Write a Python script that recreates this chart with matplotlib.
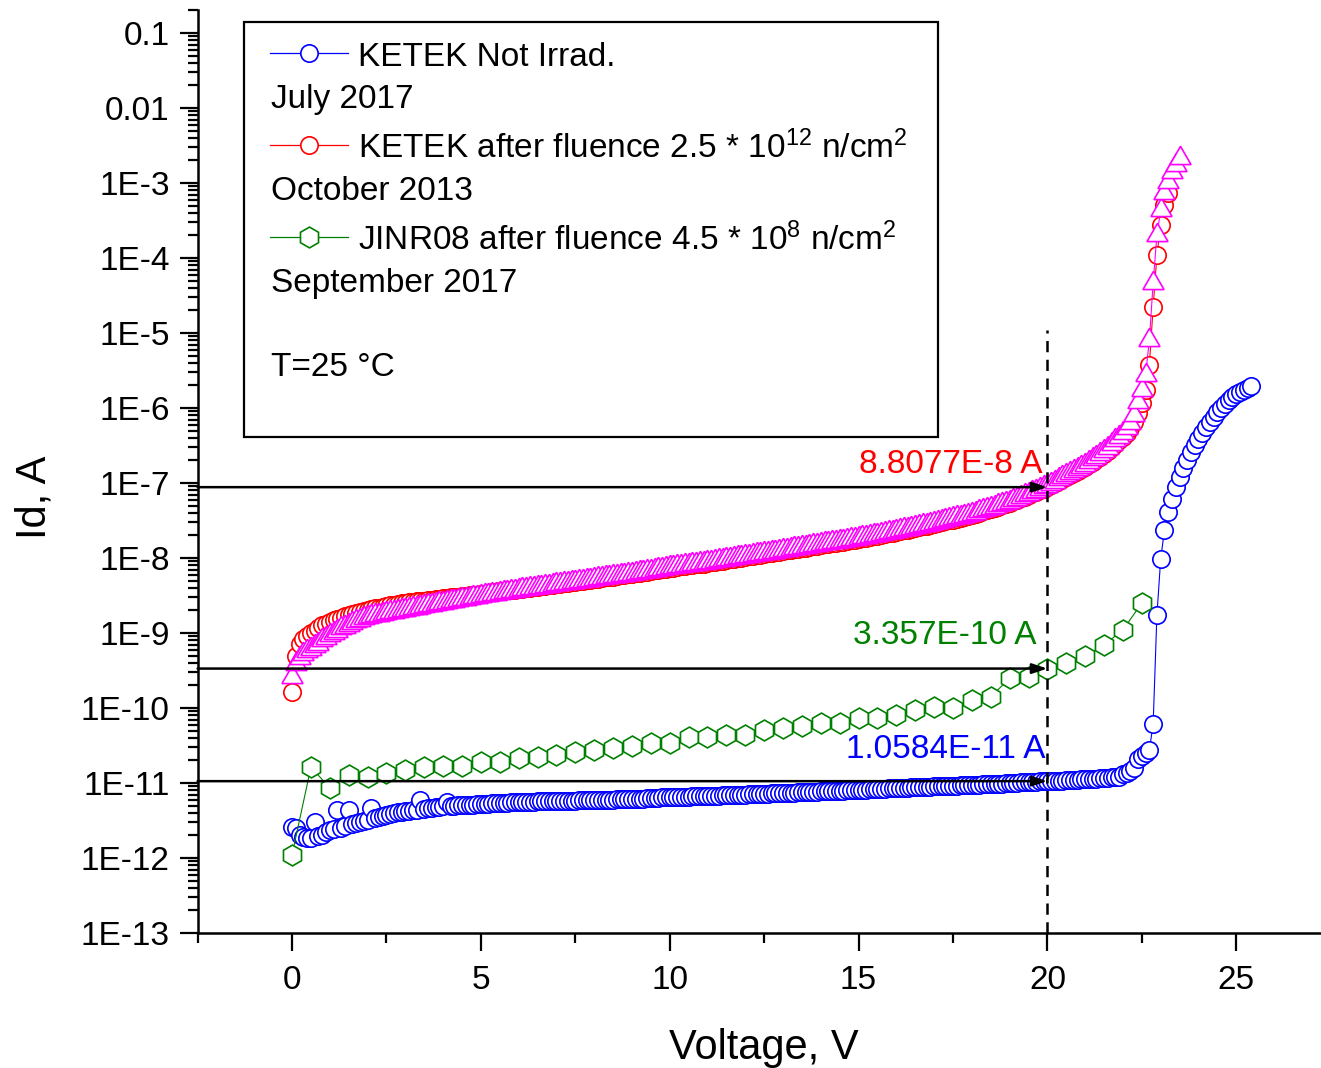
import numpy as np
import matplotlib.pyplot as plt
from matplotlib.lines import Line2D
from matplotlib.patches import Rectangle
from matplotlib.ticker import FixedLocator, FixedFormatter, LogLocator, MultipleLocator, NullFormatter

plt.rcParams['font.family'] = ['Liberation Sans', 'DejaVu Sans']
plt.rcParams['mathtext.fontset'] = 'custom'
plt.rcParams['mathtext.rm'] = 'Liberation Sans'
plt.rcParams['mathtext.it'] = 'Liberation Sans:italic'
plt.rcParams['mathtext.bf'] = 'Liberation Sans:bold'

# sweep step of the I-V measurements, V
STEP = 0.1
GREEN_STEP = 0.5

# KETEK, not irradiated (July 2017), dark current in pA
ketek_pA = [
    2.59, 2.51, 2.03, 1.91, 1.85, 1.85, 3.02, 1.97, 2.03, 2.22,
    2.36, 2.44, 4.37, 2.51, 2.67, 4.37, 2.84, 2.93, 3.02, 3.11,
    3.21, 4.64, 3.41, 3.51, 3.62, 3.75, 3.86, 3.98, 4.11, 4.11,
    4.24, 4.24, 4.37, 4.37, 5.93, 4.50, 4.64, 4.64, 4.78, 4.78,
    4.93, 5.58, 4.96, 5.00, 5.03, 5.06, 5.09, 5.12, 5.15, 5.20,
    5.24, 5.27, 5.30, 5.34, 5.37, 5.40, 5.44, 5.47, 5.51, 5.55,
    5.58, 5.60, 5.62, 5.63, 5.65, 5.67, 5.68, 5.70, 5.72, 5.74,
    5.75, 5.77, 5.79, 5.81, 5.82, 5.84, 5.86, 5.88, 5.90, 5.92,
    5.93, 5.95, 5.97, 5.99, 6.01, 6.02, 6.04, 6.06, 6.08, 6.10,
    6.11, 6.13, 6.15, 6.19, 6.25, 6.31, 6.35, 6.39, 6.42, 6.46,
    6.50, 6.52, 6.54, 6.56, 6.58, 6.60, 6.62, 6.64, 6.66, 6.68,
    6.70, 6.73, 6.76, 6.80, 6.83, 6.86, 6.89, 6.92, 6.96, 6.99,
    7.02, 7.05, 7.09, 7.12, 7.16, 7.19, 7.22, 7.26, 7.29, 7.32,
    7.35, 7.39, 7.42, 7.46, 7.49, 7.53, 7.56, 7.60, 7.63, 7.67,
    7.71, 7.74, 7.78, 7.81, 7.85, 7.89, 7.92, 7.96, 8.00, 8.03,
    8.07, 8.12, 8.17, 8.22, 8.27, 8.32, 8.37, 8.42, 8.48, 8.53,
    8.58, 8.62, 8.66, 8.70, 8.74, 8.78, 8.82, 8.86, 8.90, 8.95,
    8.99, 9.03, 9.07, 9.11, 9.15, 9.19, 9.23, 9.27, 9.32, 9.36,
    9.40, 9.45, 9.50, 9.56, 9.61, 9.66, 9.72, 9.78, 9.83, 9.89,
    10.00, 10.06, 10.12, 10.18, 10.24, 10.30, 10.36, 10.42, 10.48, 10.54,
    10.584, 10.63, 10.68, 10.74, 10.80, 10.86, 10.93, 11.00, 11.07, 11.15,
    11.22, 11.30, 11.38, 11.46, 11.55, 11.65, 11.76, 11.88, 12.00, 12.20,
    13.0, 13.6, 14.5, 16.0, 21.0, 23.0, 25.5, 27.5, 61.0, 1740,
    9700, 23600, 41000, 61200, 88500, 1.20e5, 1.58e5, 2.03e5, 2.59e5, 3.21e5,
    3.86e5, 4.64e5, 5.58e5, 6.50e5, 7.59e5, 8.85e5, 1.00e6, 1.13e6, 1.28e6, 1.40e6,
    1.54e6, 1.63e6, 1.74e6, 1.85e6, 1.96e6,
]

# KETEK after fluence 2.5e12 n/cm2 (October 2013), dark current in nA
irrad_nA = [
    0.163, 0.49, 0.71, 0.82, 0.91, 1.00, 1.08, 1.17, 1.26, 1.33,
    1.40, 1.47, 1.54, 1.61, 1.68, 1.75, 1.81, 1.87, 1.93, 1.98,
    2.03, 2.08, 2.13, 2.18, 2.23, 2.28, 2.33, 2.38, 2.43, 2.48,
    2.52, 2.56, 2.60, 2.64, 2.67, 2.71, 2.75, 2.79, 2.83, 2.87,
    2.91, 2.95, 2.99, 3.02, 3.06, 3.10, 3.14, 3.18, 3.22, 3.26,
    3.31, 3.36, 3.41, 3.47, 3.52, 3.58, 3.63, 3.69, 3.74, 3.80,
    3.86, 3.92, 3.98, 4.04, 4.10, 4.17, 4.23, 4.30, 4.36, 4.43,
    4.50, 4.57, 4.64, 4.71, 4.79, 4.86, 4.94, 5.01, 5.09, 5.17,
    5.25, 5.33, 5.41, 5.50, 5.58, 5.67, 5.76, 5.85, 5.94, 6.03,
    6.12, 6.23, 6.35, 6.47, 6.59, 6.71, 6.83, 6.96, 7.09, 7.22,
    7.36, 7.47, 7.59, 7.71, 7.83, 7.95, 8.07, 8.20, 8.32, 8.45,
    8.58, 8.74, 8.90, 9.07, 9.23, 9.40, 9.58, 9.75, 9.93, 10.1,
    10.3, 10.5, 10.7, 10.9, 11.1, 11.3, 11.5, 11.7, 11.9, 12.2,
    12.4, 12.6, 12.9, 13.1, 13.3, 13.6, 13.8, 14.1, 14.4, 14.6,
    14.9, 15.2, 15.4, 15.7, 16.0, 16.3, 16.6, 16.9, 17.3, 17.6,
    17.9, 18.3, 18.7, 19.1, 19.5, 19.9, 20.4, 20.8, 21.3, 21.7,
    22.2, 22.8, 23.3, 23.9, 24.5, 25.1, 25.7, 26.4, 27.0, 27.7,
    28.4, 29.2, 30.0, 30.8, 31.7, 32.6, 33.5, 34.4, 35.4, 36.4,
    37.4, 38.8, 40.3, 41.8, 43.3, 45.0, 46.7, 48.4, 50.2, 52.1,
    54.1, 56.8, 59.6, 62.6, 65.7, 69.0, 72.5, 76.1, 79.9, 83.9,
    88.077, 93.7, 99.6, 106, 113, 120, 128, 136, 144, 153,
    163, 177, 192, 208, 225, 244, 271, 300, 333, 370,
    410, 470, 541, 650, 858, 1166, 1738, 3743, 22200, 109600,
    275000, 509000, 736000,
]

# second sweep of the irradiated KETEK, dark current in nA
irrad2_nA = [
    0.26, 0.39, 0.46, 0.52, 0.57, 0.62, 0.67, 0.72, 0.80, 0.87,
    0.94, 1.01, 1.08, 1.15, 1.22, 1.29, 1.36, 1.43, 1.50, 1.57,
    1.63, 1.68, 1.72, 1.76, 1.80, 1.84, 1.88, 1.92, 1.96, 2.00,
    2.03, 2.08, 2.13, 2.18, 2.23, 2.28, 2.34, 2.39, 2.44, 2.50,
    2.55, 2.60, 2.65, 2.71, 2.76, 2.82, 2.88, 2.93, 2.99, 3.05,
    3.11, 3.17, 3.23, 3.29, 3.35, 3.42, 3.48, 3.55, 3.61, 3.67,
    3.74, 3.81, 3.88, 3.94, 4.01, 4.09, 4.15, 4.23, 4.30, 4.38,
    4.46, 4.53, 4.60, 4.68, 4.76, 4.84, 4.92, 5.00, 5.08, 5.16,
    5.25, 5.34, 5.42, 5.52, 5.60, 5.70, 5.79, 5.89, 5.99, 6.08,
    6.18, 6.30, 6.43, 6.55, 6.68, 6.81, 6.94, 7.08, 7.22, 7.36,
    7.51, 7.63, 7.76, 7.88, 8.00, 8.12, 8.25, 8.38, 8.50, 8.64,
    8.77, 8.95, 9.11, 9.29, 9.45, 9.63, 9.81, 9.98, 10.17, 10.34,
    10.55, 10.77, 10.98, 11.18, 11.39, 11.59, 11.80, 12.00, 12.21, 12.52,
    12.72, 12.95, 13.26, 13.47, 13.67, 13.98, 14.19, 14.49, 14.80, 15.01,
    15.32, 15.66, 15.86, 16.17, 16.48, 16.79, 17.10, 17.41, 17.82, 18.13,
    18.44, 18.89, 19.30, 19.71, 20.12, 20.54, 21.05, 21.47, 21.98, 22.39,
    22.91, 23.58, 24.09, 24.71, 25.33, 25.95, 26.57, 27.30, 27.92, 28.64,
    29.37, 30.25, 31.08, 31.91, 32.84, 33.77, 34.71, 35.64, 36.67, 37.71,
    38.75, 40.3, 41.8, 43.4, 44.9, 46.7, 48.5, 50.2, 52.1, 54.1,
    56.2, 59.1, 62.0, 65.2, 68.4, 71.8, 75.5, 79.2, 83.2, 87.5,
    92.0, 98.2, 104.6, 111.6, 119.3, 127.2, 136.1, 145.1, 154.4, 164.8,
    174.4, 190, 207, 225, 245, 267, 297, 331, 370, 413,
    459, 536, 628, 807, 1202, 1738, 2754, 8070, 46400, 202800,
    436500, 736000, 1.03e6, 1.40e6, 1.74e6, 2.15e6,
]

# JINR08 after fluence 4.5e8 n/cm2 (September 2017), dark current in A, 0.5 V steps
jinr_id = [
    1.10e-12, 1.63e-11, 8.58e-12, 1.28e-11, 1.20e-11, 1.36e-11, 1.49e-11, 1.63e-11, 1.69e-11, 1.69e-11,
    1.91e-11, 1.91e-11, 2.15e-11, 2.22e-11, 2.36e-11, 2.59e-11, 2.75e-11, 2.93e-11, 3.11e-11, 3.41e-11,
    3.41e-11, 4.10e-11, 4.10e-11, 4.37e-11, 4.37e-11, 5.09e-11, 5.41e-11, 5.75e-11, 6.31e-11, 6.31e-11,
    7.36e-11, 7.36e-11, 8.07e-11, 9.40e-11, 1.03e-10, 1.00e-10, 1.28e-10, 1.40e-10, 2.51e-10, 2.59e-10,
    3.357e-10, 3.98e-10, 4.93e-10, 6.92e-10, 1.10e-9, 2.51e-9,
]

# currents read at 20 V
V_MARK = 20
marks = [
    (8.8077e-8, '8.8077E-8 A', '#FF0000', 19.86, 1.36e-7),
    (3.357e-10, '3.357E-10 A', '#008000', 19.70, 7.13e-10),
    (1.0584e-11, '1.0584E-11 A', '#0000FF', 19.96, 2.15e-11),
]

y_ticks = [1e-13, 1e-12, 1e-11, 1e-10, 1e-9, 1e-8, 1e-7, 1e-6, 1e-5, 1e-4, 1e-3, 1e-2, 1e-1]
y_labels = ['1E-13', '1E-12', '1E-11', '1E-10', '1E-9', '1E-8', '1E-7', '1E-6',
            '1E-5', '1E-4', '1E-3', '0.01', '0.1']

ketek_v = np.arange(len(ketek_pA)) * STEP
irrad_v = np.arange(len(irrad_nA)) * STEP
irrad2_v = np.arange(len(irrad2_nA)) * STEP
jinr_v = np.arange(len(jinr_id)) * GREEN_STEP

ketek_id = np.array(ketek_pA) * 1e-12
irrad_id = np.array(irrad_nA) * 1e-9
irrad2_id = np.array(irrad2_nA) * 1e-9

W, H = 1321, 1068
fig = plt.figure(figsize=(W / 100, H / 100), dpi=100)
ax = fig.add_axes([0.1496, 0.1264, 0.8577, 0.8638])

mk = dict(mfc='white', mew=1.2)
ax.plot(ketek_v, ketek_id, color='#0000FF', lw=0.8, marker='o', ms=12.5, mec='#0000FF', **mk)
ax.plot(irrad_v, irrad_id, color='#FF0000', lw=0.8, marker='o', ms=12.5, mec='#FF0000', **mk)
ax.plot(irrad2_v, irrad2_id, color='#FF00FF', lw=0.8, marker=(3, 0, 0), ms=17.5, mec='#FF00FF', **mk)
ax.plot(jinr_v, jinr_id, color='#008000', lw=0.8, marker='h', ms=15, mec='#008000', **mk)

# dashed line at 20 V and arrows to the read values
ax.vlines(V_MARK, 1e-13, 1.1e-5, colors='k', lw=1.8, linestyles=(0, (4.5, 3.0)), zorder=5)
for val, txt, col, tx, ty in marks:
    ax.annotate('', xy=(V_MARK, val), xytext=(-2.5, val),
                arrowprops=dict(arrowstyle='-|>,head_length=0.6,head_width=0.2', color='k',
                                lw=1.8, shrinkA=0, shrinkB=0, mutation_scale=15),
                annotation_clip=False, zorder=6)
    ax.text(tx, ty, txt, color=col, fontsize=24, ha='right', va='baseline')

ax.set_yscale('log')
ax.set_xlim(-2.5, 27.5)
ax.set_ylim(1e-13, 0.2)
ax.yaxis.set_major_locator(FixedLocator(y_ticks))
ax.yaxis.set_major_formatter(FixedFormatter(y_labels))
ax.yaxis.set_minor_locator(LogLocator(base=10, subs=np.arange(2, 10), numticks=40))
ax.yaxis.set_minor_formatter(NullFormatter())
ax.set_xticks([0, 5, 10, 15, 20, 25])
ax.xaxis.set_minor_locator(MultipleLocator(2.5))

ax.tick_params(which='major', direction='out', length=13, width=1.6, labelsize=24, pad=7)
ax.tick_params(axis='x', which='major', pad=10)
ax.tick_params(which='minor', direction='out', length=7, width=1.6)
for side in ['top', 'right']:
    ax.spines[side].set_visible(False)
for side in ['left', 'bottom']:
    ax.spines[side].set_linewidth(1.8)

ax.set_xlabel('Voltage, V', fontsize=30)
ax.xaxis.set_label_coords(0.5, -0.103)
ax.set_ylabel('Id, A', fontsize=30)
ax.yaxis.set_label_coords(-0.126, 0.4726)


# legend box, laid out in pixel coordinates of the figure
def fx(px):
    return px / W


def fy(py):
    return 1 - py / H


fig.add_artist(Rectangle((fx(244), fy(437)), (938 - 244) / W, (437 - 22) / H,
                         transform=fig.transFigure, fill=False, ec='k', lw=1.6))

entries = [
    (53, '#0000FF', 'o', 12.5, 'KETEK Not Irrad.', 'July 2017'),
    (145, '#FF0000', 'o', 12.5, r'KETEK after fluence 2.5 * 10$^{12}$ n/cm$^{2}$', 'October 2013'),
    (237, '#008000', 'h', 15, r'JINR08 after fluence 4.5 * 10$^{8}$ n/cm$^{2}$', 'September 2017'),
]
for y, col, m, ms, name, date in entries:
    fig.add_artist(Line2D([fx(270), fx(309), fx(348)], [fy(y)] * 3, transform=fig.transFigure,
                          color=col, lw=0.9, marker=m, ms=ms, mec=col, markevery=[1], **mk))
    fig.text(fx(358), fy(y + 13), name, fontsize=24, va='baseline')
    fig.text(fx(271), fy(y + 55), date, fontsize=24, va='baseline')
fig.text(fx(271), fy(376), 'T=25 °C', fontsize=24, va='baseline')

fig.savefig('out.png', dpi=100)
